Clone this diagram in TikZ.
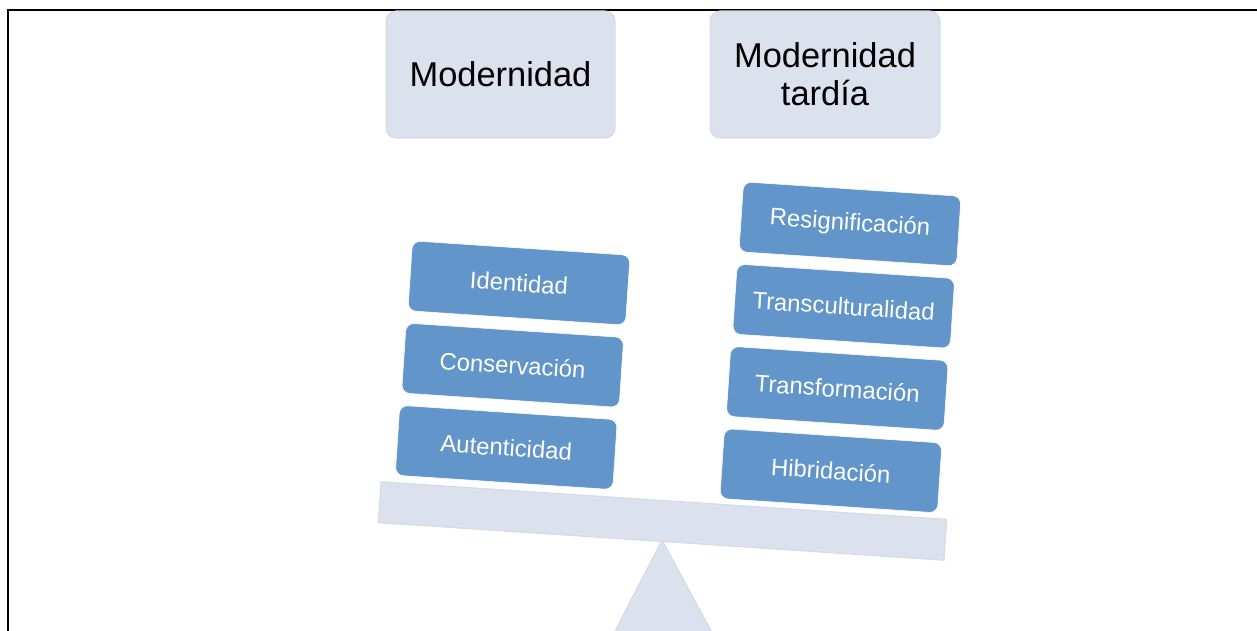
\documentclass[tikz,border=0pt]{standalone}
\usepackage{fontspec}
\setmainfont{Liberation Sans}
\usetikzlibrary{positioning}
\definecolor{boxblue}{RGB}{98,149,201}
\definecolor{paleblue}{RGB}{220,225,238}
\definecolor{paleedge}{RGB}{212,218,234}

\begin{document}
\begin{tikzpicture}[x=0.02cm, y=-0.02cm,
    headbox/.style={fill=paleblue, draw=paleedge, line width=0.6pt, rounded corners=0.2cm,
      minimum height=2.54cm, inner sep=0pt, align=center,
      font=\fontsize{19.6}{21.6}\selectfont},
    valuebox/.style={fill=boxblue, draw=white, line width=0.3pt, rounded corners=0.16cm,
      minimum width=4.36cm, minimum height=1.4cm, inner sep=0pt, text=white,
      rotate=-3.8, font=\fontsize{13.6}{15}\selectfont},
    stacked/.style={below=of #1, xshift=-0.034cm},
    node distance=0.24cm]
      \clip (0, 0) rectangle (1257, 631);

      % frame
      \draw[line width=1.1pt] (8, 632) -- (8, 10) -- (1258, 10);

      % headers
      \node[headbox, minimum width=4.58cm] (modern) at (500.5, 74.5) {Modernidad};
      \node[headbox, minimum width=4.6cm] (late) at (825, 74.5) {Modernidad\\tardía};

      % support and beam
      \fill[paleblue, draw=paleedge, line width=0.6pt] (662, 540) -- (600, 660) -- (727, 660) -- cycle;
      \node[fill=paleblue, draw=paleedge, line width=0.6pt, rotate=-3.8, inner sep=0pt,
            minimum width=11.34cm, minimum height=0.82cm] (beam) at (662.5, 521) {};

      % left pile
      \node[valuebox] (ident) at (519, 283) {Identidad};
      \node[valuebox, stacked=ident] (conserv) {Conservación};
      \node[valuebox, stacked=conserv] (autent) {Autenticidad};

      % right pile
      \node[valuebox] (resig) at (850, 224) {Resignificación};
      \node[valuebox, stacked=resig] (transc) {Transculturalidad};
      \node[valuebox, stacked=transc] (transf) {Transformación};
      \node[valuebox, stacked=transf] (hibrid) {Hibridación};
\end{tikzpicture}
\end{document}
